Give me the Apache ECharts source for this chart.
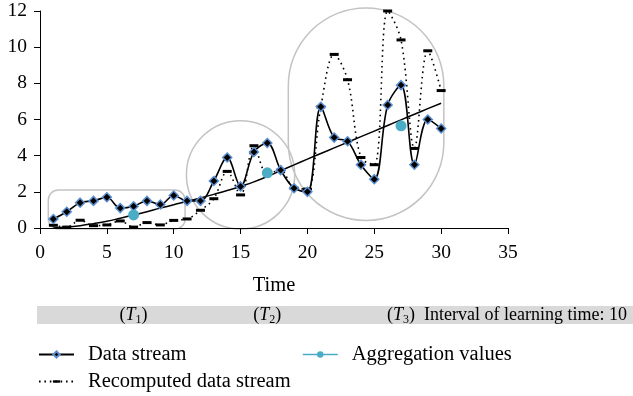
<!DOCTYPE html>
<html>
<head>
<meta charset="utf-8">
<script src="https://cdn.jsdelivr.net/npm/echarts@6/dist/echarts.min.js"></script>
<style>
html,body{margin:0;padding:0;background:#fff;}
#chart{width:633px;height:396px;}
</style>
</head>
<body>
<div id="chart"></div>
<script>
// ---- data ----
const times = [1,2,3,4,5,6,7,8,9,10,11,12,13,14,15,16,17,18,19,20,21,22,23,24,25,26,27,28,29,30];
const dataStream = [0.5,0.9,1.4,1.5,1.7,1.1,1.2,1.5,1.3,1.8,1.5,1.5,2.6,3.9,2.3,4.2,4.7,3.2,2.2,2.0,6.7,5.0,4.8,3.5,2.7,6.8,7.9,3.5,6.0,5.5];
const recomputed = [0.15,0.05,0.43,0.13,0.17,0.39,0.05,0.3,0.17,0.42,0.5,0.98,1.62,3.13,1.83,4.55,3.0,3.2,2.2,2.15,6.7,9.6,8.2,3.9,3.5,12.0,10.4,4.4,9.8,7.6];
const trend = [0.0,0.05,0.13,0.24,0.37,0.54,0.72,0.9,1.1,1.29,1.47,1.66,1.86,2.07,2.3,2.55,2.85,3.17,3.49,3.81,4.12,4.43,4.74,5.05,5.36,5.67,5.98,6.29,6.6,6.9];
const aggTimes = [7,17,27];
const aggValues = [0.72,3.05,5.65];
const intervalLabels = ['1','2','3'];
const intervalNote = 'Interval of learning time: 10';
const xTicks = {min:0, max:35, interval:5};
const yTicks = {min:0, max:12, interval:2};

const FONT = 'Liberation Serif';
const pair = (xs, ys) => xs.map((x, i) => [x, ys[i]]);
// short horizontal dash symbol (extra moveTo points keep it flat inside a square box)
const DASH = 'path://M0,-3M0,0H8V3H0ZM8,6';

const chart = echarts.init(document.getElementById('chart'), null, {renderer:'canvas'});

const legendText = {fontFamily: FONT, fontSize: 20.5, color: '#000', padding: [0,0,0,9]};

const option = {
  animation: false,
  backgroundColor: '#fff',
  textStyle: {fontFamily: FONT, color: '#000'},
  grid: {left: 40, right: 125, top: 11, bottom: 168, containLabel: false},
  xAxis: {
    type: 'value', min: xTicks.min, max: xTicks.max, interval: xTicks.interval,
    name: 'Time', nameLocation: 'middle', nameGap: 47,
    nameTextStyle: {fontFamily: FONT, fontSize: 20.5, color: '#000'},
    axisLine: {lineStyle: {color: '#000', width: 1}},
    axisTick: {show: true, length: 6, lineStyle: {color: '#000'}},
    axisLabel: {fontFamily: FONT, fontSize: 19.5, color: '#000', margin: 15},
    splitLine: {show: false}
  },
  yAxis: {
    type: 'value', min: yTicks.min, max: yTicks.max, interval: yTicks.interval,
    axisLine: {show: true, lineStyle: {color: '#000', width: 1}},
    axisTick: {show: true, length: 6, lineStyle: {color: '#000'}},
    axisLabel: {fontFamily: FONT, fontSize: 19.5, color: '#000', margin: 13},
    splitLine: {show: false}
  },
  legend: [
    {data: ['Data stream'], left: 33, top: 339, itemWidth: 35, itemHeight: 8, textStyle: legendText},
    {data: ['Aggregation values'], left: 297, top: 339, itemWidth: 35, itemHeight: 8,
     lineStyle: {opacity: 1, width: 1.5, color: '#4bacc6'}, textStyle: legendText},
    {data: ['Recomputed data stream'], left: 33, top: 366, itemWidth: 35, itemHeight: 9, textStyle: legendText}
  ],
  series: [
    {
      name: 'Trend', type: 'line', smooth: true, showSymbol: false, silent: true,
      data: pair(times, trend), z: 2,
      lineStyle: {color: '#000', width: 1.5}
    },
    {
      name: 'Recomputed data stream', type: 'line', smooth: 0.35, z: 3,
      data: pair(times, recomputed),
      symbol: DASH, symbolSize: [9, 9], showAllSymbol: true,
      itemStyle: {color: '#000', borderWidth: 0},
      lineStyle: {color: '#000', width: 1.6, type: [1.6, 3.8]}
    },
    {
      name: 'Data stream', type: 'line', smooth: 0.35, z: 4,
      data: pair(times, dataStream),
      symbol: 'diamond', symbolSize: 9, showAllSymbol: true,
      itemStyle: {color: '#000', borderColor: '#5b8fd0', borderWidth: 1.5},
      lineStyle: {color: '#000', width: 1.6}
    },
    {
      name: 'Aggregation values', type: 'line', z: 5,
      data: pair(aggTimes, aggValues),
      symbol: 'circle', symbolSize: 11,
      itemStyle: {color: '#4bacc6', borderWidth: 0},
      lineStyle: {opacity: 0, color: '#4bacc6'}
    }
  ]
};
chart.setOption(option);

// ---- annotations positioned from data coordinates ----
const px = (x, y) => chart.convertToPixel({gridIndex: 0}, [x, y]);
const stroke = {stroke: '#c3c3c3', lineWidth: 1.5, fill: null};

const r1a = px(0.62, 2.1), r1b = px(10.85, -0.05);
const c2 = px(15, 2.94), c2e = px(19.05, 2.94);
const r3a = px(18.57, 12.17), r3b = px(30.2, 0.42);
const w3 = r3b[0] - r3a[0];

const bandTop = 306, bandH = 18;
const bandText = (x, label) => ({
  type: 'text', z: 10,
  style: {
    x: x, y: bandTop + bandH / 2,
    text: '(' + '{i|T}' + '{s|' + label + '})',
    rich: {
      i: {fontFamily: FONT, fontStyle: 'italic', fontSize: 18, fill: '#000'},
      s: {fontFamily: FONT, fontSize: 12, fill: '#000', padding: [9, 0, 0, 0]}
    },
    fontFamily: FONT, fontSize: 18, fill: '#000',
    align: 'center', verticalAlign: 'middle'
  }
});

const t1 = px(aggTimes[0], 0), t2 = px(aggTimes[1], 0), t3 = px(aggTimes[2], 0);

chart.setOption({
  graphic: [
    {type: 'rect', z: 0, shape: {x: r1a[0], y: r1a[1], width: r1b[0] - r1a[0], height: r1b[1] - r1a[1], r: 10}, style: stroke},
    {type: 'circle', z: 0, shape: {cx: c2[0], cy: c2[1], r: c2e[0] - c2[0]}, style: stroke},
    {type: 'rect', z: 0, shape: {x: r3a[0], y: r3a[1], width: w3, height: r3b[1] - r3a[1], r: w3 / 2}, style: stroke},
    {type: 'rect', z: 0, shape: {x: 37, y: bandTop, width: 633 - 37, height: bandH}, style: {fill: '#d9d9d9'}},
    bandText(t1[0], intervalLabels[0]),
    bandText(t2[0], intervalLabels[1]),
    bandText(t3[0], intervalLabels[2]),
    {type: 'text', z: 10, style: {x: t3[0] + 23, y: bandTop + bandH / 2, text: intervalNote,
      fontFamily: FONT, fontSize: 18, fill: '#000', align: 'left', verticalAlign: 'middle'}}
  ]
});
</script>
</body>
</html>
